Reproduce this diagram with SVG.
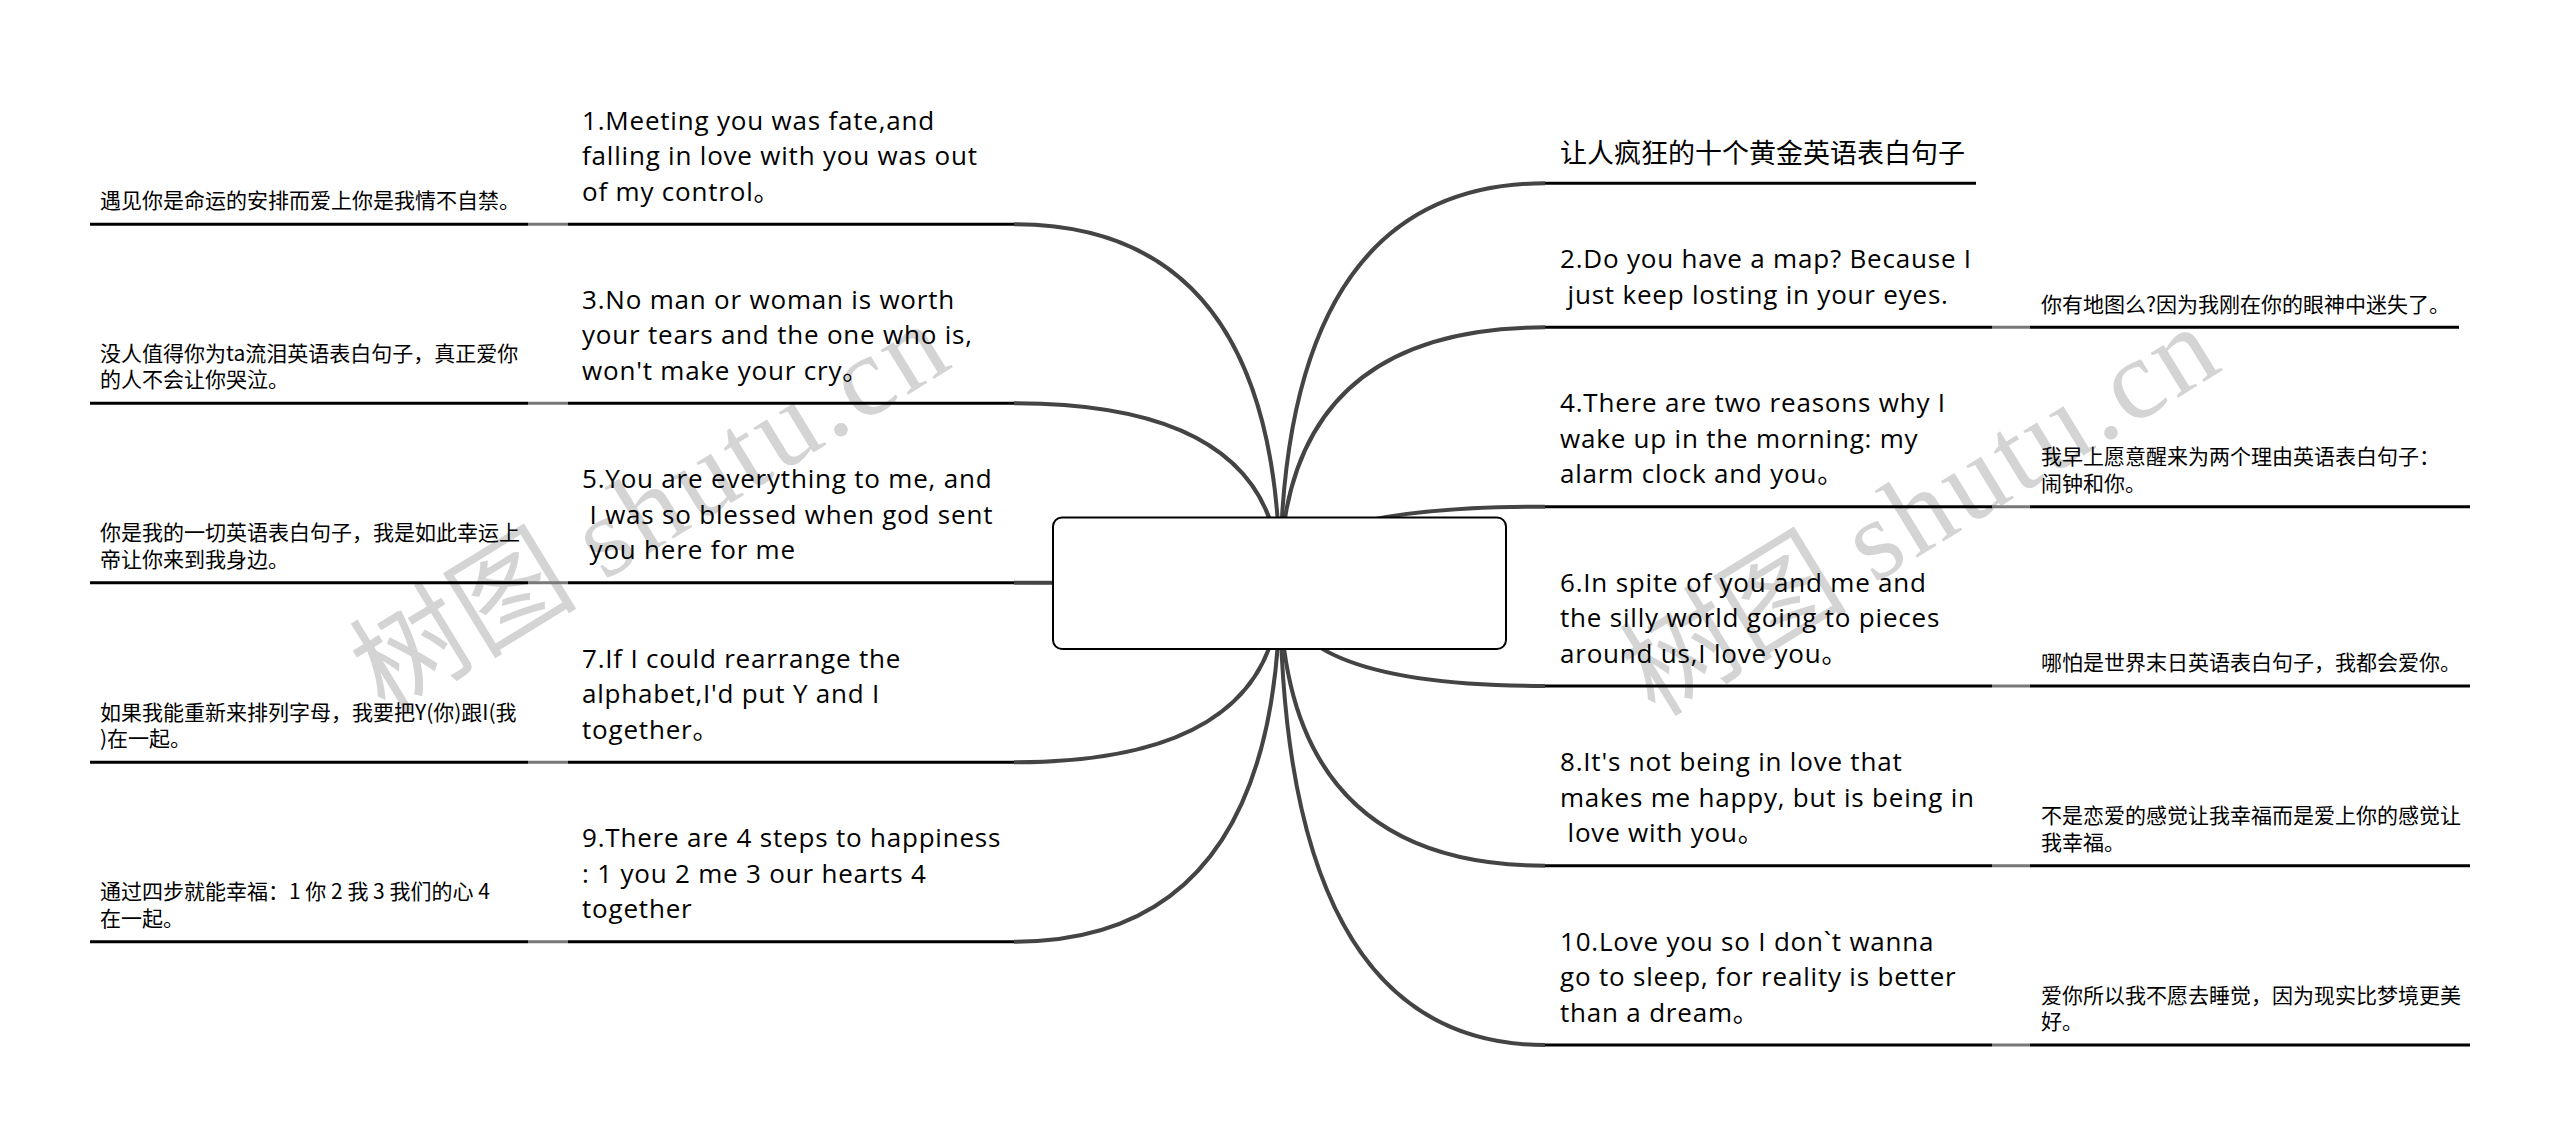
<svg xmlns="http://www.w3.org/2000/svg" width="2560" height="1135" viewBox="0 0 2560 1135">
<style>
.en{font-family:"Open Sans","Noto Sans","Noto Sans CJK SC",sans-serif;font-size:26px;letter-spacing:0.8px;fill:#000}
.cn{font-family:"Noto Sans CJK SC","Noto Sans",sans-serif;font-size:21px;fill:#000}
.title{font-family:"Noto Sans CJK SC",sans-serif;font-size:27px;fill:#000}
.ul{stroke:#000;stroke-width:3;fill:none}
.conn{fill:none;stroke:#444;stroke-width:4}
.join{fill:none;stroke:#777;stroke-width:3}
.wm{font-family:"Liberation Serif","Noto Sans CJK SC",serif;font-size:114px;fill:#d4d4d4}
.box{fill:#fff;stroke:#000;stroke-width:2}
</style>
<g id="watermark">
<text class="wm" transform="translate(385,715) rotate(-31.5)">树图 <tspan letter-spacing="4">shutu.cn</tspan></text>
<text class="wm" transform="translate(1655,718) rotate(-31.5)">树图 <tspan letter-spacing="4">shutu.cn</tspan></text>
</g>
<g id="connectors">
<path class="conn" d="M1280,583 Q1280,224.3 1014,224.3"/>
<path class="conn" d="M1280,583 Q1280,403.3 1014,403.3"/>
<path class="conn" d="M1280,583 L1014,582.7"/>
<path class="conn" d="M1280,583 Q1280,762.3 1014,762.3"/>
<path class="conn" d="M1280,583 Q1280,941.7 1014,941.7"/>
<path class="conn" d="M1280,583 Q1280,183.3 1545,183.3"/>
<path class="conn" d="M1280,583 Q1280,327.3 1545,327.3"/>
<path class="conn" d="M1280,583 Q1280,506.7 1545,506.7"/>
<path class="conn" d="M1280,583 Q1280,686 1545,686"/>
<path class="conn" d="M1280,583 Q1280,865.7 1545,865.7"/>
<path class="conn" d="M1280,583 Q1280,1045 1545,1045"/>
<path class="join" d="M568,224.3 H528"/>
<path class="join" d="M568,403.3 H528"/>
<path class="join" d="M568,582.7 H528"/>
<path class="join" d="M568,762.3 H528"/>
<path class="join" d="M568,941.7 H528"/>
<path class="join" d="M1992,327.3 H2030"/>
<path class="join" d="M1992,506.7 H2030"/>
<path class="join" d="M1992,686 H2030"/>
<path class="join" d="M1992,865.7 H2030"/>
<path class="join" d="M1992,1045 H2030"/>
</g>
<g id="center">
<rect class="box" x="1053" y="517.5" width="453" height="131.5" rx="9"/>
</g>
<g id="title">
<text class="title" x="1560" y="162.7">让人疯狂的十个黄金英语表白句子</text>
<path class="ul" d="M1545,183.3 H1976"/>
</g>
<g id="en1">
<text class="en" x="582" y="129.8">1.Meeting you was fate,and</text>
<text class="en" x="582" y="165.3">falling in love with you was out</text>
<text class="en" x="582" y="200.8">of my control。</text>
<path class="ul" d="M568,224.3 H1014"/>
</g>
<g id="cn1">
<text class="cn" x="100" y="208.3">遇见你是命运的安排而爱上你是我情不自禁。</text>
<path class="ul" d="M90,224.3 H528"/>
</g>
<g id="en3">
<text class="en" x="582" y="308.8">3.No man or woman is worth</text>
<text class="en" x="582" y="344.3">your tears and the one who is,</text>
<text class="en" x="582" y="379.8">won't make your cry。</text>
<path class="ul" d="M568,403.3 H1014"/>
</g>
<g id="cn3">
<text class="cn" x="100" y="360.8">没人值得你为ta流泪英语表白句子，真正爱你</text>
<text class="cn" x="100" y="387.3">的人不会让你哭泣。</text>
<path class="ul" d="M90,403.3 H528"/>
</g>
<g id="en5">
<text class="en" x="582" y="488.2">5.You are everything to me, and</text>
<text class="en" x="582" y="523.7" xml:space="preserve"> I was so blessed when god sent</text>
<text class="en" x="582" y="559.2" xml:space="preserve"> you here for me</text>
<path class="ul" d="M568,582.7 H1014"/>
</g>
<g id="cn5">
<text class="cn" x="100" y="540.2">你是我的一切英语表白句子，我是如此幸运上</text>
<text class="cn" x="100" y="566.7">帝让你来到我身边。</text>
<path class="ul" d="M90,582.7 H528"/>
</g>
<g id="en7">
<text class="en" x="582" y="667.8">7.If I could rearrange the</text>
<text class="en" x="582" y="703.3">alphabet,I'd put Y and I</text>
<text class="en" x="582" y="738.8">together。</text>
<path class="ul" d="M568,762.3 H1014"/>
</g>
<g id="cn7">
<text class="cn" x="100" y="719.8">如果我能重新来排列字母，我要把Y(你)跟I(我</text>
<text class="cn" x="100" y="746.3">)在一起。</text>
<path class="ul" d="M90,762.3 H528"/>
</g>
<g id="en9">
<text class="en" x="582" y="847.2">9.There are 4 steps to happiness</text>
<text class="en" x="582" y="882.7">: 1 you 2 me 3 our hearts 4</text>
<text class="en" x="582" y="918.2">together</text>
<path class="ul" d="M568,941.7 H1014"/>
</g>
<g id="cn9">
<text class="cn" x="100" y="899.2">通过四步就能幸福：1 你 2 我 3 我们的心 4</text>
<text class="cn" x="100" y="925.7">在一起。</text>
<path class="ul" d="M90,941.7 H528"/>
</g>
<g id="en2">
<text class="en" x="1560" y="268.3">2.Do you have a map? Because I</text>
<text class="en" x="1560" y="303.8" xml:space="preserve"> just keep losting in your eyes.</text>
<path class="ul" d="M1545,327.3 H1992"/>
</g>
<g id="cn2">
<text class="cn" x="2041" y="312.3">你有地图么?因为我刚在你的眼神中迷失了。</text>
<path class="ul" d="M2030,327.3 H2459"/>
</g>
<g id="en4">
<text class="en" x="1560" y="412.2">4.There are two reasons why I</text>
<text class="en" x="1560" y="447.7">wake up in the morning: my</text>
<text class="en" x="1560" y="483.2">alarm clock and you。</text>
<path class="ul" d="M1545,506.7 H1992"/>
</g>
<g id="cn4">
<text class="cn" x="2041" y="464.2">我早上愿意醒来为两个理由英语表白句子：</text>
<text class="cn" x="2041" y="490.7">闹钟和你。</text>
<path class="ul" d="M2030,506.7 H2470"/>
</g>
<g id="en6">
<text class="en" x="1560" y="591.5">6.In spite of you and me and</text>
<text class="en" x="1560" y="627">the silly world going to pieces</text>
<text class="en" x="1560" y="662.5">around us,I love you。</text>
<path class="ul" d="M1545,686 H1992"/>
</g>
<g id="cn6">
<text class="cn" x="2041" y="670">哪怕是世界末日英语表白句子，我都会爱你。</text>
<path class="ul" d="M2030,686 H2470"/>
</g>
<g id="en8">
<text class="en" x="1560" y="771.2">8.It's not being in love that</text>
<text class="en" x="1560" y="806.7">makes me happy, but is being in</text>
<text class="en" x="1560" y="842.2" xml:space="preserve"> love with you。</text>
<path class="ul" d="M1545,865.7 H1992"/>
</g>
<g id="cn8">
<text class="cn" x="2041" y="823.2">不是恋爱的感觉让我幸福而是爱上你的感觉让</text>
<text class="cn" x="2041" y="849.7">我幸福。</text>
<path class="ul" d="M2030,865.7 H2470"/>
</g>
<g id="en10">
<text class="en" x="1560" y="950.5">10.Love you so I don`t wanna</text>
<text class="en" x="1560" y="986">go to sleep, for reality is better</text>
<text class="en" x="1560" y="1021.5">than a dream。</text>
<path class="ul" d="M1545,1045 H1992"/>
</g>
<g id="cn10">
<text class="cn" x="2041" y="1002.5">爱你所以我不愿去睡觉，因为现实比梦境更美</text>
<text class="cn" x="2041" y="1029">好。</text>
<path class="ul" d="M2030,1045 H2470"/>
</g>
</svg>
